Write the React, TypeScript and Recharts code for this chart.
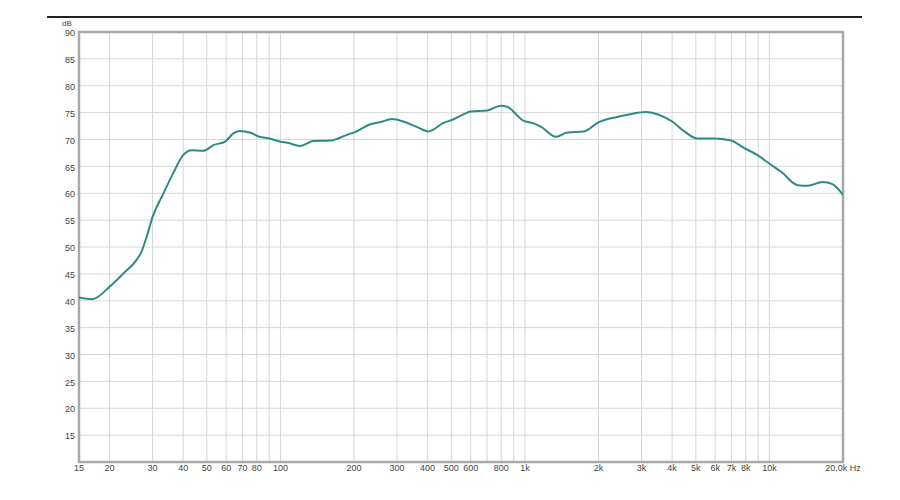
import React from 'react';
import { LineChart, Line, XAxis, YAxis, CartesianGrid, ReferenceArea } from 'recharts';

// frequency response
const freqs = [
  15, 17, 20, 22.7, 25.8, 27, 28.5, 30, 33, 36.4, 40, 43.4, 48.3, 53.5, 59.4, 64, 68, 75, 82, 90,
  100, 107, 120, 136, 160, 193, 200, 232, 255, 286, 320, 363, 403, 465, 500, 562, 600, 702, 794, 845,
  985, 1085, 1161, 1340, 1491, 1740, 2000, 2385, 2700, 3120, 3480, 4020, 4490, 5070, 5930, 6960, 7890, 8940,
  10150, 11170, 13050, 14340, 16500, 18100, 20000,
];
const levels = [
  40.6, 40.3, 42.6, 45.0, 47.6, 49.1, 52.2, 55.6, 59.7, 63.7, 67.1, 68.0, 67.9, 69.0, 69.6, 71.1, 71.6, 71.3, 70.5, 70.2,
  69.6, 69.4, 68.8, 69.7, 69.8, 71.1, 71.3, 72.8, 73.2, 73.8, 73.3, 72.3, 71.5, 73.1, 73.6, 74.7, 75.2, 75.4, 76.3, 76.1,
  73.5, 73.0, 72.4, 70.5, 71.3, 71.5, 73.2, 74.2, 74.7, 75.1, 74.7, 73.3, 71.5, 70.2, 70.2, 69.8, 68.4, 67.1,
  65.3, 64.0, 61.5, 61.4, 62.1, 61.7, 59.7,
];

const xTicks = [
  15, 20, 30, 40, 50, 60, 70, 80, 90, 100, 200, 300, 400, 500, 600, 700, 800, 900,
  1000, 2000, 3000, 4000, 5000, 6000, 7000, 8000, 9000, 10000, 20000,
];
const xLabels: Record<number, string> = {
  15: '15', 20: '20', 30: '30', 40: '40', 50: '50', 60: '60', 70: '70', 80: '80', 100: '100',
  200: '200', 300: '300', 400: '400', 500: '500', 600: '600', 800: '800',
  1000: '1k', 2000: '2k', 3000: '3k', 4000: '4k', 5000: '5k', 6000: '6k', 7000: '7k', 8000: '8k',
  10000: '10k', 20000: '20,0k Hz',
};
const yTicks = [10, 15, 20, 25, 30, 35, 40, 45, 50, 55, 60, 65, 70, 75, 80, 85, 90];

const data = freqs.map((f, i) => ({ f, db: levels[i] }));

const font = '"Liberation Sans", Arial, sans-serif';

export default function App() {
  return (
    <div style={{ position: 'relative', width: 900, height: 500, background: '#fff', fontFamily: font }}>
      <style>{'body{margin:0}'}</style>
      <div style={{ position: 'absolute', left: 47, top: 16, width: 815, height: 2, background: '#222' }} />
      <div style={{ position: 'absolute', left: 62, top: 20, fontSize: 8, lineHeight: '8px', color: '#444' }}>dB</div>
      <LineChart width={900} height={500} data={data} margin={{ top: 32, right: 57, bottom: 0, left: 0 }}>
        <CartesianGrid stroke="#d6d6d6" strokeWidth={1} />
        <XAxis
          dataKey="f"
          type="number"
          scale="log"
          domain={[15, 20000]}
          ticks={xTicks}
          interval={0}
          height={38}
          tickSize={0}
          tickMargin={3}
          axisLine={false}
          tickFormatter={(v: number) => xLabels[v] ?? ''}
          tick={{ fill: '#444', fontSize: 9, fontFamily: font }}
          allowDataOverflow
        />
        <YAxis
          type="number"
          domain={[10, 90]}
          ticks={yTicks}
          interval={0}
          width={79}
          tickSize={0}
          tickMargin={4}
          axisLine={false}
          tickFormatter={(v: number) => (v === 10 ? '' : String(v))}
          tick={{ fill: '#444', fontSize: 9, fontFamily: font, dy: 1 }}
        />
        <ReferenceArea x1={15} x2={20000} y1={10} y2={90} fill="none" stroke="#a8a8a8" strokeWidth={2.5} />
        <Line
          type="monotone"
          dataKey="db"
          stroke="#2b8c85"
          strokeWidth={2}
          dot={false}
          isAnimationActive={false}
        />
      </LineChart>
    </div>
  );
}
